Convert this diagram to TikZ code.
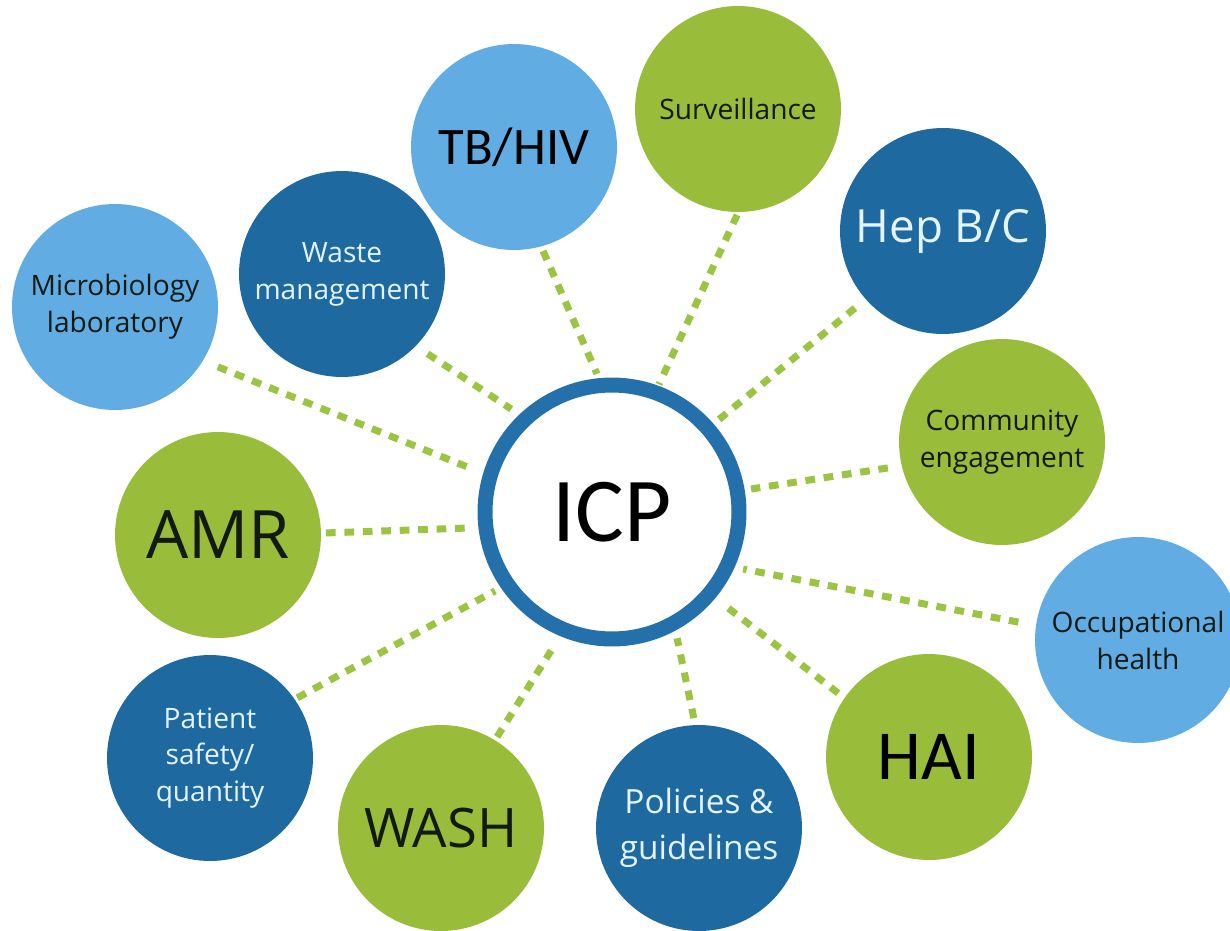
\documentclass[tikz,border=0pt]{standalone}
\usepackage{fontspec}
\setmainfont{Open Sans}
\newfontfamily\calibrifont{Carlito}
\usetikzlibrary{calc}
\definecolor{lblue}{HTML}{62ACE4}
\definecolor{dblue}{HTML}{1F69A1}
\definecolor{lgreen}{HTML}{99BC3B}
\definecolor{ringblue}{HTML}{2470AB}
\definecolor{dashgreen}{HTML}{9CC443}
\definecolor{darktext}{HTML}{121A14}
\definecolor{lighttext}{HTML}{E3F4FF}
\begin{document}
\begin{tikzpicture}[x=0.02cm,y=-0.02cm,
 sat/.style={circle, inner sep=0pt, outer sep=0pt, minimum size=4.12cm, align=center},
 lightsat/.style={sat, fill=lblue, text=darktext},
 darksat/.style={sat, fill=dblue, text=lighttext},
 greensat/.style={sat, fill=lgreen, text=darktext},
 conn/.style={draw=dashgreen, line width=4pt, dash pattern=on 5.5pt off 5pt},
 small/.style={font=\fontsize{16}{21}\selectfont},
]
\useasboundingbox (0,0) rectangle (1230,930);

\node[lightsat, small] (micro) at (115,307) {Microbiology\\laboratory};
\node[darksat, small] (waste) at (342,274) {Waste\\management};
\node[lightsat, text=black, font=\calibrifont\fontsize{30}{36}\selectfont] (tbhiv) at (514,147) {TB/HIV};
\node[greensat, small] (surv) at (738,109) {Surveillance};
\node[darksat, font=\fontsize{26}{32}\selectfont] (hep) at (943,231) {Hep B/C};
\node[greensat, small] (comm) at (1002,442) {Community\\engagement};
\node[lightsat, small] (occ) at (1138,640) {Occupational\\health};
\node[greensat, text=black, font=\calibrifont\fontsize{40}{48}\selectfont] (hai) at (929,757) {HAI};
\node[darksat, font=\fontsize{19}{26}\selectfont] (pol) at (699,828) {Policies \&\\guidelines};
\node[greensat, font=\fontsize{31}{36}\selectfont] (wash) at (441,828) {WASH};
\node[darksat, small] (pat) at (210,758) {Patient\\safety/\\quantity};
\node[greensat, font=\fontsize{38}{44}\selectfont] (amr) at (218,535) {AMR};
\node[circle, draw=ringblue, fill=white, line width=0.3cm, minimum size=5.08cm, inner sep=0pt,
      font=\calibrifont\fontsize{52}{60}\selectfont] (icp) at (612,512) {ICP};

\draw[conn] ($(micro)+(30.2:119)$) -- ($(icp)+(-162.8:148)$);
\draw[conn] ($(waste)+(43:117)$) -- ($(icp)+(-134.4:144)$);
\draw[conn] ($(tbhiv)+(74.4:108)$) -- ($(icp)+(-96.2:139)$);
\draw[conn] ($(surv)+(90.5:106)$) -- ($(icp)+(-69.8:136)$);
\draw[conn] ($(hep)+(138.8:117)$) -- ($(icp)+(-40.9:137)$);
\draw[conn] ($(comm)+(167.2:117)$) -- ($(icp)+(-9.4:141)$);
\draw[conn] ($(occ)+(-171.5:121)$) -- ($(icp)+(23.5:143)$);
\draw[conn] ($(hai)+(-144.9:111)$) -- ($(icp)+(39.6:149)$);
\draw[conn] ($(pol)+(-92.7:110)$) -- ($(icp)+(62.7:142)$);
\draw[conn] ($(wash)+(-58.4:107)$) -- ($(icp)+(113.4:146)$);
\draw[conn] ($(pat)+(-34.6:106)$) -- ($(icp)+(146:141)$);
\draw[conn] ($(amr)+(-1.1:108)$) -- ($(icp)+(173.6:143)$);
\end{tikzpicture}
\end{document}
